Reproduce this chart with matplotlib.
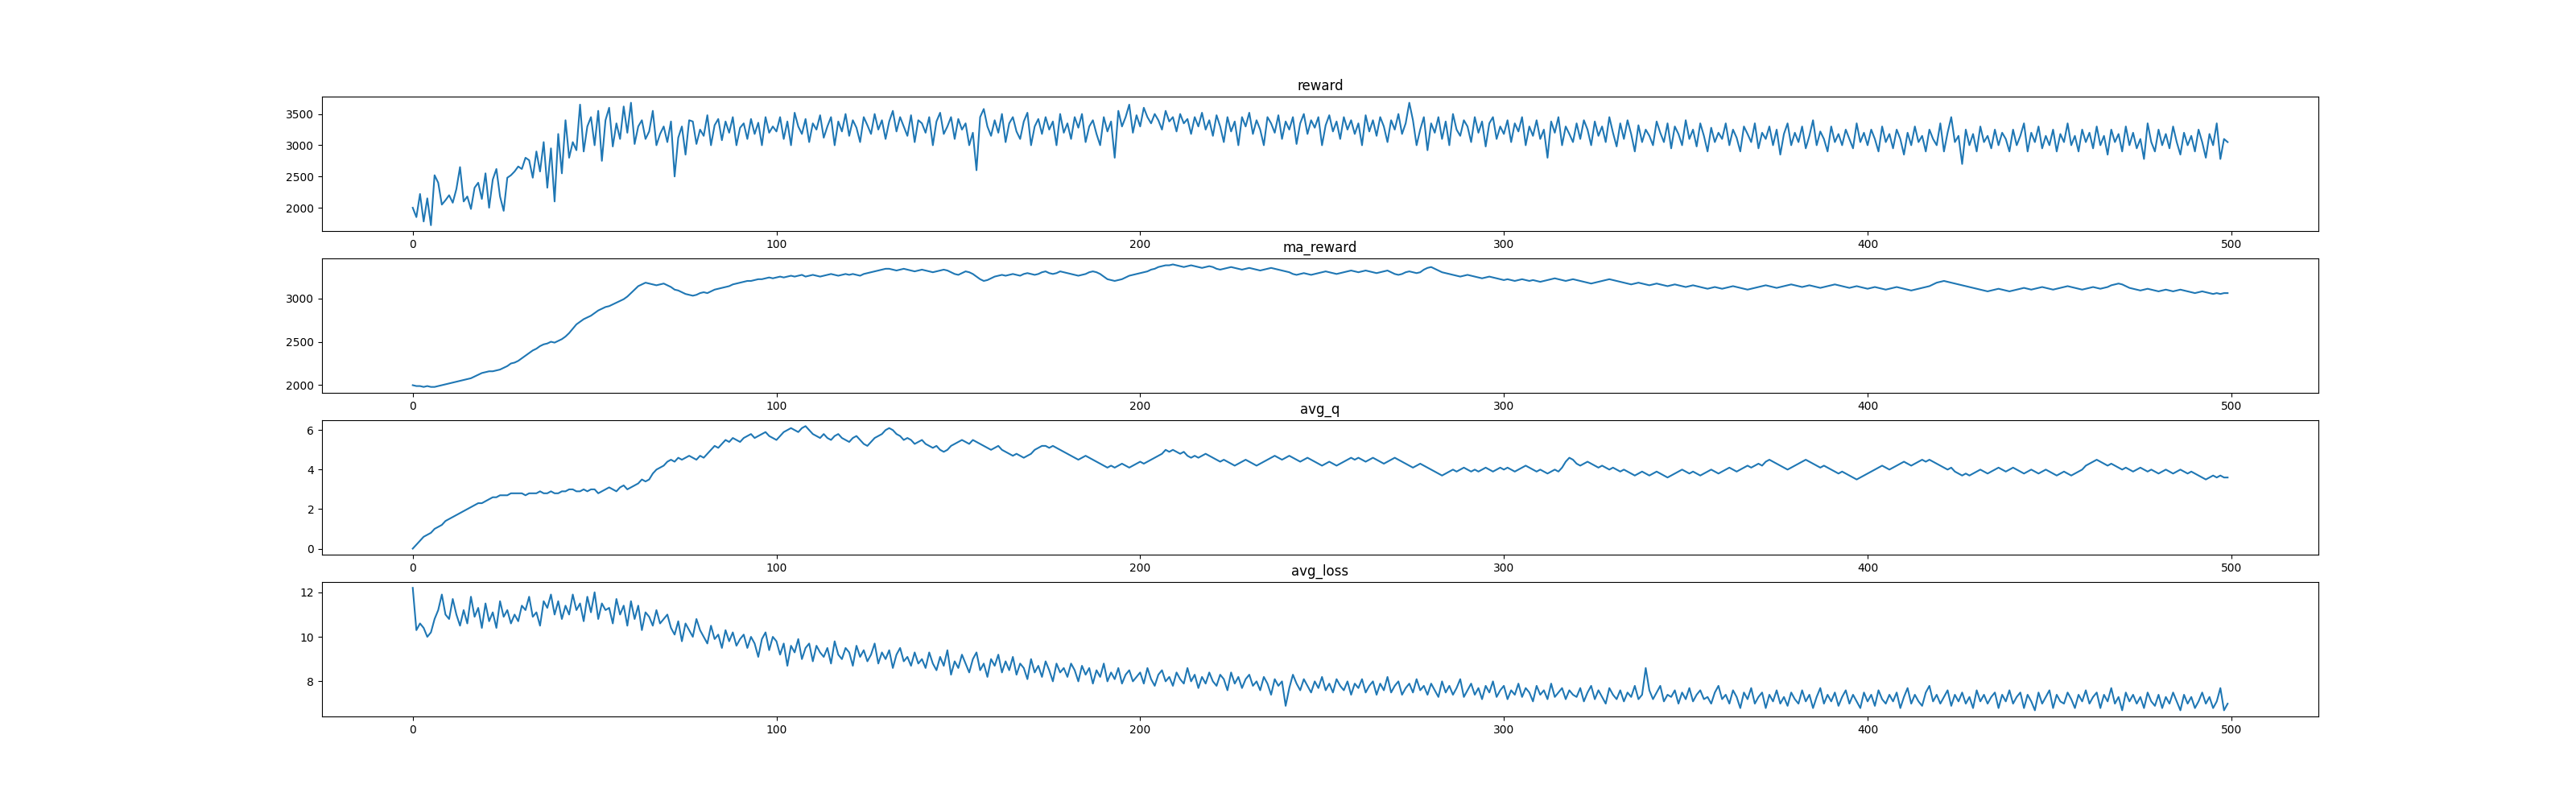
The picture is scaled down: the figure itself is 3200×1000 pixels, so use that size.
import numpy as np
import matplotlib
matplotlib.use("Agg")
import matplotlib.pyplot as plt

# values (reward and ma_reward stored /10, avg_q and avg_loss stored x10)
reward = [
    200,185,222,178,215,172,252,240,205,212,220,208,230,265,210,218,198,232,240,214,
    255,200,245,262,218,195,248,252,258,266,262,280,276,248,290,258,305,232,295,210,
    318,255,340,280,305,292,365,290,330,345,300,355,275,340,360,298,335,310,362,320,
    368,302,330,340,310,322,355,300,318,330,305,338,250,312,330,285,340,338,302,325,
    315,348,300,332,342,308,338,320,345,300,328,335,310,342,318,336,300,345,320,330,
    322,345,310,338,300,352,330,318,342,305,335,325,348,312,330,345,300,338,322,350,
    315,340,328,305,345,332,318,350,325,340,310,338,355,322,345,330,315,348,305,340,
    335,320,345,300,338,352,318,330,345,310,342,325,335,300,320,260,345,358,330,315,
    340,320,350,305,335,345,322,310,338,352,300,330,342,318,345,325,338,300,350,320,
    335,310,345,328,350,305,330,340,318,300,345,322,338,280,355,330,345,365,320,348,
    330,360,345,335,350,340,325,355,338,345,322,350,335,342,318,345,330,352,325,340,
    315,348,330,305,345,322,338,300,345,330,352,318,340,325,300,345,335,320,348,310,
    338,325,345,302,335,350,318,340,328,345,300,332,348,322,338,310,345,325,340,318,
    335,300,348,322,340,315,345,330,305,340,325,350,318,335,368,340,300,325,345,292,
    335,320,345,310,338,300,350,325,315,340,330,305,345,320,338,298,335,345,310,330,
    318,340,305,335,322,345,300,330,315,340,310,325,280,338,320,345,300,330,318,305,
    335,310,340,325,300,338,315,330,305,345,320,298,335,310,340,318,290,332,305,325,
    315,300,338,320,305,335,295,330,318,300,340,310,325,298,335,315,290,328,305,320,
    310,335,300,325,312,290,330,318,305,335,295,320,310,330,300,325,285,318,335,300,
    320,305,330,295,315,340,300,322,310,290,330,305,318,300,325,310,295,335,305,320,
    300,325,310,290,330,305,318,295,325,310,285,320,300,330,305,315,290,325,310,300,
    335,290,320,345,305,315,270,325,300,318,290,330,305,315,295,325,300,320,310,290,
    325,300,315,335,290,320,305,330,295,315,300,325,290,318,305,335,300,315,290,325,
    305,320,295,330,300,315,285,325,305,318,290,330,300,320,295,310,278,335,305,290,
    325,300,318,295,330,305,285,320,300,315,290,325,305,280,318,300,335,278,310,305,
]
ma_reward = [
    200,199,199,198,199,198,198,199,200,201,202,203,204,205,206,207,208,210,212,214,
    215,216,216,217,218,220,222,225,226,228,231,234,237,240,242,245,247,248,250,249,
    251,253,256,260,265,270,273,276,278,280,283,286,288,290,291,293,295,297,299,302,
    306,310,314,316,318,317,316,315,316,317,315,313,310,309,307,305,304,303,304,306,
    307,306,308,310,311,312,313,314,316,317,318,319,320,320,321,322,322,323,324,323,
    324,325,324,325,326,325,326,327,325,326,327,326,325,326,327,328,327,326,327,328,
    327,328,327,326,328,329,330,331,332,333,334,334,333,332,333,334,333,332,331,332,
    333,332,331,330,331,332,333,332,330,328,327,329,331,330,328,325,322,320,321,323,
    325,326,327,326,327,328,327,326,328,329,328,327,328,330,331,329,328,329,331,330,
    329,328,327,326,327,328,330,331,330,328,325,322,321,320,321,322,324,326,327,328,
    329,330,331,333,334,336,337,338,338,339,338,337,336,337,338,337,336,335,336,337,
    336,334,333,334,335,336,335,334,333,334,335,334,333,332,333,334,335,334,333,332,
    331,330,328,327,328,329,328,327,328,329,330,331,330,329,328,329,330,331,332,331,
    330,331,332,331,330,329,330,331,332,330,328,327,328,330,331,330,329,330,333,335,
    336,334,332,330,329,328,327,326,325,326,327,326,325,324,323,324,325,324,323,322,
    321,322,321,320,321,322,321,320,321,320,319,320,321,322,323,322,321,320,321,322,
    321,320,319,318,317,318,319,320,321,322,321,320,319,318,317,316,317,318,317,316,
    315,316,317,316,315,314,315,316,315,314,313,314,315,314,313,312,311,312,313,312,
    311,312,313,314,313,312,311,310,311,312,313,314,315,314,313,312,313,314,315,316,
    315,314,313,314,315,314,313,312,313,314,315,316,315,314,313,312,313,314,313,312,
    311,312,313,312,311,310,311,312,313,312,311,310,309,310,311,312,313,314,316,318,
    319,320,319,318,317,316,315,314,313,312,311,310,309,308,309,310,311,310,309,308,
    309,310,311,312,311,310,311,312,313,312,311,310,311,312,313,314,313,312,311,310,
    311,312,313,312,311,312,313,315,316,317,316,314,312,311,310,309,310,311,310,309,
    308,309,310,309,308,309,310,309,308,307,306,307,308,307,306,305,306,305,306,306,
]
avg_q = [
    0,2,4,6,7,8,10,11,12,14,15,16,17,18,19,20,21,22,23,23,
    24,25,26,26,27,27,27,28,28,28,28,27,28,28,28,29,28,28,29,28,
    28,29,29,30,30,29,29,30,29,30,30,28,29,30,31,30,29,31,32,30,
    31,32,33,35,34,35,38,40,41,42,44,45,44,46,45,46,47,46,45,47,
    46,48,50,52,51,53,55,54,56,55,54,56,57,58,56,57,58,59,57,56,
    55,57,59,60,61,60,59,61,62,60,58,57,56,58,56,55,57,58,56,55,
    54,56,57,55,53,52,54,56,57,58,60,61,60,58,57,55,56,55,53,54,
    55,53,52,51,52,50,49,50,52,53,54,55,54,53,55,54,53,52,51,50,
    51,52,50,49,48,47,48,47,46,47,48,50,51,52,52,51,52,51,50,49,
    48,47,46,45,46,47,46,45,44,43,42,41,42,41,42,43,42,41,42,43,
    44,43,44,45,46,47,48,50,49,50,49,48,49,47,46,47,46,47,48,47,
    46,45,44,45,44,43,42,43,44,45,44,43,42,43,44,45,46,47,46,45,
    46,47,46,45,44,45,46,45,44,43,42,43,44,43,42,43,44,45,46,45,
    46,45,44,45,46,45,44,43,44,45,46,45,44,43,42,41,42,43,42,41,
    40,39,38,37,38,39,40,39,40,41,40,39,40,39,40,41,40,39,40,41,
    40,41,40,39,40,41,42,41,40,39,40,39,38,39,40,39,41,44,46,45,
    43,42,43,44,43,42,41,42,41,40,41,40,39,40,39,38,37,38,39,38,
    37,38,39,38,37,36,37,38,39,40,39,38,39,38,37,38,39,40,39,38,
    39,40,41,40,39,40,41,42,41,42,43,42,44,45,44,43,42,41,40,41,
    42,43,44,45,44,43,42,41,42,41,40,39,38,39,38,37,36,35,36,37,
    38,39,40,41,42,41,40,41,42,43,44,43,42,43,44,45,44,45,44,43,
    42,41,40,41,39,38,37,38,37,38,39,40,39,38,39,40,41,40,39,40,
    41,40,39,38,39,40,39,38,39,40,39,38,37,38,39,38,37,38,39,40,
    42,43,44,45,44,43,42,43,42,41,40,41,40,39,40,41,40,39,40,39,
    38,39,40,39,38,39,40,39,38,39,38,37,36,35,36,37,36,37,36,36,
]
avg_loss = [
    122,103,106,104,100,102,108,112,119,110,108,117,110,105,112,106,118,109,113,104,
    115,107,111,104,116,109,112,106,110,107,114,112,118,109,111,105,116,113,119,110,
    116,108,114,110,119,112,115,107,118,111,120,108,115,112,113,106,117,110,114,105,
    116,108,114,103,111,109,105,112,106,108,110,104,101,107,98,106,103,100,108,103,
    100,97,105,99,101,95,103,98,102,96,99,101,95,100,97,91,99,102,94,100,
    98,92,97,87,96,93,99,90,95,97,89,96,93,91,95,88,98,92,90,95,
    93,87,96,91,94,89,92,97,88,93,90,94,86,92,95,89,91,87,93,88,
    90,86,93,88,85,91,87,94,83,89,86,92,88,84,90,93,85,88,82,90,
    87,92,84,89,85,91,83,88,86,81,90,84,87,82,89,85,80,88,84,86,
    82,88,85,80,87,83,86,79,85,82,88,80,84,81,86,79,83,85,80,82,
    84,79,86,81,78,83,85,80,82,78,84,81,79,86,80,83,77,82,79,84,
    80,78,83,81,76,84,79,82,77,81,83,78,80,76,82,79,74,81,78,80,
    69,77,83,79,76,81,78,75,80,77,82,76,79,75,81,78,76,80,74,79,
    77,81,75,78,80,74,79,76,82,75,78,80,74,77,79,75,81,76,78,74,
    79,76,73,80,75,78,74,77,81,73,76,79,74,77,72,78,75,80,73,76,
    78,72,76,74,79,73,77,75,71,78,74,76,72,79,73,75,77,72,76,74,
    73,77,71,75,78,72,76,73,70,77,74,72,76,71,75,73,78,72,74,86,
    76,72,75,78,71,74,73,76,70,75,72,77,71,74,76,72,73,70,75,78,
    72,74,70,76,73,68,75,72,77,70,73,75,68,74,71,76,70,73,69,75,
    72,70,76,71,74,68,73,77,70,74,71,75,69,73,76,70,74,71,68,75,
    71,74,69,76,72,70,74,71,75,68,73,77,70,74,71,69,75,78,71,74,
    70,73,76,69,74,71,75,70,73,68,76,71,74,70,73,75,68,74,71,76,
    70,73,75,68,74,71,67,75,70,73,76,68,74,71,70,75,72,68,74,71,
    76,70,73,75,68,74,71,77,70,73,67,75,71,74,70,73,68,75,71,69,
    74,68,73,70,75,71,67,74,70,73,68,71,75,70,73,68,71,77,67,70,
]

series = {
    "reward": np.array(reward) * 10,
    "ma_reward": np.array(ma_reward) * 10,
    "avg_q": np.array(avg_q) / 10,
    "avg_loss": np.array(avg_loss) / 10,
}

fig, axes = plt.subplots(4, 1, figsize=(32, 10), dpi=100)
for ax, (name, vals) in zip(axes, series.items()):
    ax.plot(np.arange(len(vals)), vals)
    ax.set_title(name)
fig.savefig("out.png")
